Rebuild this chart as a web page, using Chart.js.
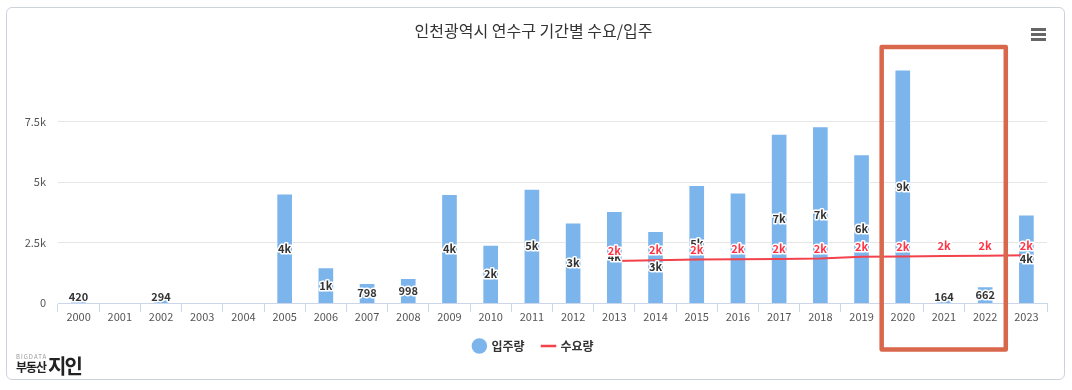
<!DOCTYPE html>
<html>
<head>
<meta charset="utf-8">
<script src="https://cdn.jsdelivr.net/npm/chart.js@4.4.1/dist/chart.umd.min.js"></script>
<style>
  html, body { margin: 0; padding: 0; background: #fff; }
  #wrap { position: relative; width: 1072px; height: 390px; overflow: hidden; }
  #frame { position: absolute; left: 6px; top: 7px; width: 1059px; height: 373px; border: 1px solid #ccd3dc; border-radius: 6px; box-sizing: border-box; }
  #c { position: absolute; left: 0; top: 0; }
  #menu { position: absolute; left: 1031px; top: 28px; width: 15px; }
  #menu div { height: 2.5px; background: #666; margin-bottom: 2.5px; }
  #logo { position: absolute; left: 16px; top: 352px; font-family: "Noto Sans CJK KR", sans-serif; color: #222; }
  #logo .big { position: absolute; left: 0; top: 0; font-size: 6px; color: #999; letter-spacing: 1px; white-space: nowrap; }
  #logo .b { position: absolute; left: 0; top: 6px; font-size: 12px; font-weight: 700; white-space: nowrap; letter-spacing: -1px; }
  #logo .j { position: absolute; left: 32px; top: -1px; font-size: 20px; font-weight: 700; white-space: nowrap; letter-spacing: -2px; }
</style>
</head>
<body>
<div id="wrap">
  <div id="frame"></div>
  <canvas id="c" width="1072" height="390"></canvas>
  <div id="menu"><div></div><div></div><div></div></div>
  <div id="logo"><span class="big">BIGDATA</span><span class="b">부동산</span><span class="j">지인</span></div>
</div>
<script>
const years = ['2000','2001','2002','2003','2004','2005','2006','2007','2008','2009','2010','2011','2012','2013','2014','2015','2016','2017','2018','2019','2020','2021','2022','2023'];
const supply = [420, null, 294, null, null, 4420, 1430, 798, 998, 4400, 2350, 4610, 3250, 3710, 2900, 4770, 4460, 6840, 7140, 6010, 9440, 164, 662, 3570];
const demand = [null, null, null, null, null, null, null, null, null, null, null, null, null, 1700, 1730, 1760, 1770, 1780, 1800, 1870, 1880, 1900, 1910, 1930];
const yTickLabels = ['0', '2.5k', '5k', '7.5k'];
const seriesNames = ['입주량', '수요량'];
const titleText = '인천광역시 연수구 기간별 수요/입주';
const highlightFrom = '2020', highlightTo = '2022';

const FONT = '"Noto Sans CJK KR", "Noto Sans", sans-serif';
const BAR_COLOR = '#7cb5ec';
const LINE_COLOR = '#f2424c';
const RED_LABEL = '#ff3346';

function fmt(v) {
  if (v < 1000) return String(v);
  return Math.round(v / 1000) + 'k';
}

const labelPlugin = {
  id: 'valueLabels',
  afterDatasetsDraw(chart) {
    const ctx = chart.ctx;
    const barMeta = chart.getDatasetMeta(0);
    const lineMeta = chart.getDatasetMeta(1);
    ctx.save();
    ctx.font = 'bold 11px ' + FONT;
    ctx.textAlign = 'center';
    ctx.textBaseline = 'middle';
    ctx.lineJoin = 'round';
    const lineLabelY = [];
    lineMeta.data.forEach((p, i) => {
      lineLabelY[i] = (demand[i] == null) ? null : p.y - 10;
    });
    barMeta.data.forEach((el, i) => {
      const v = supply[i];
      if (v == null) return;
      let y = (el.y + el.base) / 2;
      y = Math.min(y, el.base - 6.5);
      if (lineLabelY[i] != null && Math.abs(lineLabelY[i] - y) < 4) return;
      ctx.strokeStyle = '#fff';
      ctx.lineWidth = 3;
      ctx.strokeText(fmt(v), el.x, y);
      ctx.fillStyle = '#333';
      ctx.fillText(fmt(v), el.x, y);
    });
    lineMeta.data.forEach((p, i) => {
      const v = demand[i];
      if (v == null) return;
      const y = lineLabelY[i];
      ctx.strokeStyle = '#fff';
      ctx.lineWidth = 3;
      ctx.strokeText(fmt(v), p.x, y);
      ctx.fillStyle = RED_LABEL;
      ctx.fillText(fmt(v), p.x, y);
    });
    ctx.restore();
  }
};

const boxPlugin = {
  id: 'highlightBox',
  afterDraw(chart) {
    const xs = chart.scales.x;
    const a = years.indexOf(highlightFrom), b = years.indexOf(highlightTo);
    const half = (xs.getPixelForValue(1) - xs.getPixelForValue(0)) / 2;
    const left = xs.getPixelForValue(a) - half - 0.5;
    const right = xs.getPixelForValue(b) + half;
    const ctx = chart.ctx;
    ctx.save();
    ctx.strokeStyle = '#d9674b';
    ctx.lineWidth = 4.5;
    ctx.lineJoin = 'round';
    ctx.beginPath();
    ctx.rect(left, 47, right - left, 302.5);
    ctx.stroke();
    ctx.restore();
  }
};

new Chart(document.getElementById('c'), {
  data: {
    labels: years,
    datasets: [
      {
        type: 'bar',
        label: seriesNames[0],
        data: supply,
        backgroundColor: BAR_COLOR,
        borderColor: '#ffffff',
        borderWidth: 1,
        barThickness: 16,
        order: 2,
        pointStyle: 'circle'
      },
      {
        type: 'line',
        label: seriesNames[1],
        data: demand,
        borderColor: LINE_COLOR,
        backgroundColor: LINE_COLOR,
        borderWidth: 2,
        pointRadius: 0,
        pointHoverRadius: 0,
        tension: 0,
        order: 1,
        pointStyle: 'line'
      }
    ]
  },
  options: {
    responsive: false,
    animation: false,
    devicePixelRatio: 1,
    layout: { padding: { left: 20, right: 25, top: 0, bottom: 28 } },
    plugins: {
      title: {
        display: true,
        text: titleText,
        color: '#333',
        font: { family: FONT, size: 16, weight: 'normal', lineHeight: 1.2 },
        padding: { top: 21, bottom: 20.8 }
      },
      legend: {
        display: true,
        position: 'bottom',
        labels: {
          usePointStyle: true,
          boxWidth: 12,
          boxHeight: 11,
          padding: 18,
          color: '#333',
          font: { family: FONT, size: 12, weight: 'bold' },
          generateLabels(chart) {
            const items = Chart.defaults.plugins.legend.labels.generateLabels(chart);
            items.sort((p, q) => p.datasetIndex - q.datasetIndex);
            items.forEach((it) => {
              if (it.datasetIndex === 0) {
                it.pointStyle = 'circle';
                it.fillStyle = BAR_COLOR;
                it.strokeStyle = BAR_COLOR;
                it.lineWidth = 0;
              } else {
                it.pointStyle = 'line';
                it.strokeStyle = LINE_COLOR;
                it.lineWidth = 2.5;
              }
            });
            return items;
          }
        }
      },
      tooltip: { enabled: false }
    },
    scales: {
      x: {
        type: 'category',
        offset: true,
        grid: {
          display: true,
          offset: true,
          drawOnChartArea: false,
          drawTicks: true,
          tickLength: 9,
          color: '#ccd6eb'
        },
        border: { display: true, color: '#ccd6eb', width: 1 },
        ticks: {
          color: '#555',
          font: { family: FONT, size: 11 },
          padding: -2,
          maxRotation: 0,
          autoSkip: false
        },
        afterFit(scale) { scale.height = 19; }
      },
      y: {
        type: 'linear',
        min: 0,
        max: 9800,
        grid: { color: '#e6e6e6', drawTicks: false, lineWidth: (c) => (c.tick && c.tick.value === 0 ? 0 : 1) },
        border: { display: false },
        ticks: {
          stepSize: 2500,
          includeBounds: false,
          color: '#555',
          padding: 12,
          font: { family: FONT, size: 11 },
          callback: (v, i) => yTickLabels[i]
        },
        afterFit(scale) { scale.width = 38; }
      }
    }
  },
  plugins: [labelPlugin, boxPlugin]
});
</script>
</body>
</html>
